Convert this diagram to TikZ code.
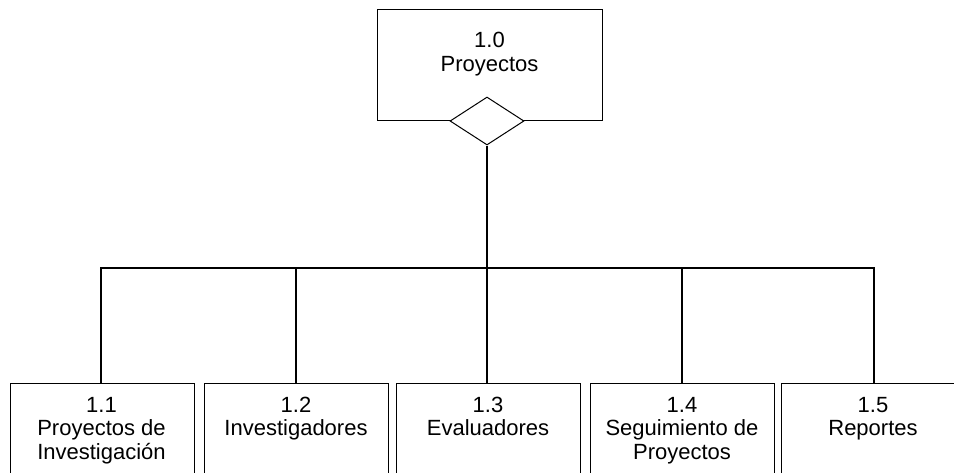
\documentclass[tikz,border=0pt]{standalone}
\usepackage{fontspec}
\setmainfont{Liberation Sans}
\usetikzlibrary{shapes.geometric}
\begin{document}
\begin{tikzpicture}[x=1pt,y=-1pt,
  box/.style={draw=black,line width=1pt,rectangle,inner sep=0pt,minimum width=184pt,minimum height=120pt,anchor=north west},
  lbl/.style={font=\fontsize{22}{23.8}\selectfont,align=center,anchor=base,inner sep=0pt},
  drop/.style={line width=1.5pt},
  bar/.style={line width=2pt}]
\clip (0,0) rectangle (954,472);
\useasboundingbox (0,0) rectangle (954,472);
% top box
\node[draw=black,line width=1pt,inner sep=0pt,minimum width=225pt,minimum height=111pt,anchor=north west] (top) at (377,9) {};
\node[lbl] (toplbl) at (489.5,71) {1.0\\Proyectos};
\node[draw=black,fill=white,line width=1pt,diamond,aspect=1.55,inner sep=0pt,minimum width=74pt,minimum height=48pt] (dia) at (487,121) {};
% bottom boxes
\node[box] (b1) at (10,383) {};
\node[box] (b2) at (204,383) {};
\node[box] (b3) at (396,383) {};
\node[box] (b4) at (590,383) {};
\node[box] (b5) at (781,383) {};
\node[lbl] at (101.5,459.6) {1.1\\Proyectos de\\Investigación};
\node[lbl] at (296,435.8) {1.2\\Investigadores};
\node[lbl] at (488,435.8) {1.3\\Evaluadores};
\node[lbl] at (682,459.6) {1.4\\Seguimiento de\\Proyectos};
\node[lbl] at (873,435.8) {1.5\\Reportes};
% connectors
\coordinate (j0) at (487,268);
\coordinate (j1) at (101,268);
\coordinate (j2) at (296,268);
\coordinate (j3) at (487,268);
\coordinate (j4) at (682,268);
\coordinate (j5) at (874,268);
\draw[line width=2.8pt] (dia.south) -- (j0);
\draw[bar] ([xshift=-1pt]j1) -- ([xshift=1pt]j5);
\draw[drop] (j1) -- (j1 |- b1.north);
\draw[drop] (j2) -- (j2 |- b2.north);
\draw[drop] (j3) -- (j3 |- b3.north);
\draw[drop] (j4) -- (j4 |- b4.north);
\draw[drop] (j5) -- (j5 |- b5.north);
\end{tikzpicture}
\end{document}
